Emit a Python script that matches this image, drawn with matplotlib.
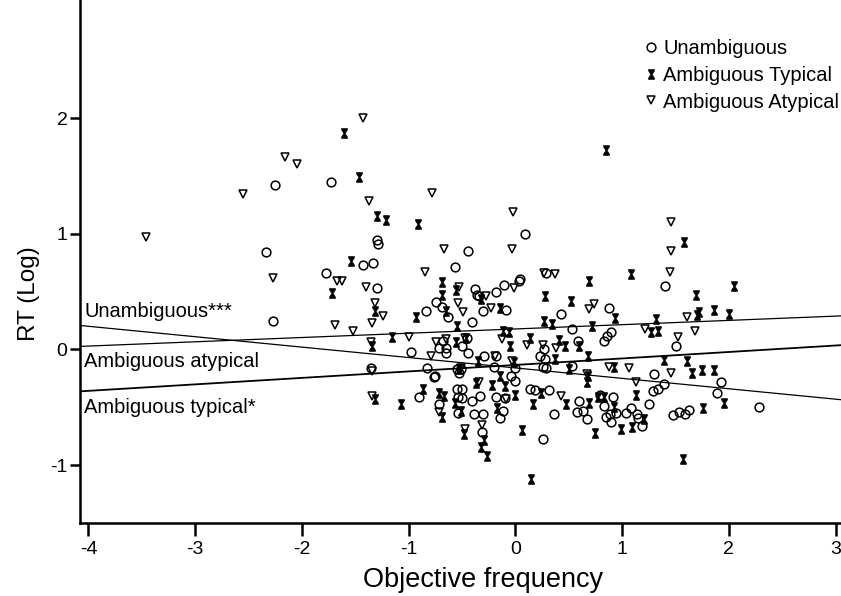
import numpy as np
import matplotlib
matplotlib.use('Agg')
import matplotlib.pyplot as plt
from matplotlib.path import Path

plt.rcParams['font.family'] = ['Liberation Sans', 'DejaVu Sans']
plt.rcParams['axes.unicode_minus'] = False

# Unambiguous words (open circles)
unamb_x = [-2.25, -1.73, -2.34, -2.27, -1.30, -1.29, -1.43, -1.33, -1.77, -1.30,
           -1.35, -0.44, -0.57, 0.09, -0.38, -0.36, -0.34, -0.11, 0.03, 0.04,
           -0.18, -0.74, -0.69, -0.84, -0.63, -0.30, -0.09, -0.41, -0.45, -0.68,
           -0.72, -0.65, -0.65, -0.50, -0.44, -0.98, -0.29, -0.18, -0.20, -0.83,
           -0.55, -0.53, -0.51, 0.00, -0.75, 0.29, 1.40, 0.43, 0.88, 0.53,
           0.59, 0.83, 0.86, 0.90, 1.50, 0.27, 0.23, 0.28, 0.26, 0.29,
           0.53, 1.30, -0.76, -0.90, -0.72, -0.55, -0.50, -0.54, -0.50, -0.41,
           -0.33, -0.54, -0.39, -0.30, -0.18, -0.10, -0.12, -0.14, -0.04, 0.00,
           0.14, 0.18, -0.31, 1.39, 1.34, 1.29, 1.25, 0.31, 0.60, 0.63,
           0.58, 0.67, 0.79, 0.91, 0.83, 0.85, 0.89, 0.94, 0.90, 1.04,
           1.08, 1.14, 1.15, 1.19, 0.36, 0.26, 1.48, 1.53, 1.59, 1.63,
           1.93, 1.89, 2.28]
unamb_y = [1.42, 1.45, 0.84, 0.25, 0.95, 0.91, 0.73, 0.75, 0.66, 0.53,
           -0.16, 0.85, 0.71, 1.00, 0.52, 0.47, 0.46, 0.56, 0.59, 0.61,
           0.50, 0.41, 0.37, 0.33, 0.28, 0.33, 0.34, 0.24, 0.10, 0.07,
           0.01, 0.01, -0.03, 0.03, -0.03, -0.02, -0.06, -0.06, -0.15, -0.16,
           -0.17, -0.20, -0.17, -0.16, -0.23, 0.66, 0.55, 0.31, 0.36, 0.18,
           0.07, 0.07, 0.12, 0.15, 0.03, 0.00, -0.06, -0.08, -0.15, -0.16,
           -0.14, -0.21, -0.24, -0.41, -0.47, -0.34, -0.34, -0.41, -0.42, -0.45,
           -0.40, -0.55, -0.56, -0.56, -0.41, -0.42, -0.53, -0.59, -0.23, -0.27,
           -0.34, -0.35, -0.71, -0.30, -0.34, -0.36, -0.47, -0.35, -0.45, -0.53,
           -0.54, -0.60, -0.39, -0.41, -0.49, -0.58, -0.56, -0.55, -0.63, -0.55,
           -0.51, -0.56, -0.59, -0.66, -0.56, -0.77, -0.57, -0.54, -0.56, -0.52,
           -0.28, -0.38, -0.50]

# Ambiguous words, typical meaning (filled hourglass)
typ_x = [-1.61, -1.47, -1.30, -1.21, -0.91, -1.54, -1.72, -0.69, -0.69, -0.56,
         -1.32, -1.34, -1.32, 0.85, -0.93, -0.65, -0.32, -0.14, -0.55, -1.16,
         -0.56, -0.06, -0.12, -0.05, -0.46, -0.35, -0.01, -0.53, 0.69, 1.08,
         1.69, 0.28, 0.52, 0.27, 0.34, 0.72, 0.93, 1.32, 1.27, 1.34,
         1.70, 0.14, 0.41, 0.46, 0.60, 0.37, 0.68, 1.39, 1.61, 1.65,
         0.50, 0.92, 0.68, 1.58, 2.05, 1.72, 1.86, 2.00, 1.75, 1.86,
         1.95, 1.76, 1.57, -0.87, -0.72, -0.67, -0.57, -0.69, -0.51, -0.37,
         -0.22, -0.14, -0.10, -0.17, 0.00, 0.16, -0.48, -0.29, -0.32, -0.27,
         0.06, 0.15, 0.67, 0.24, 0.47, 0.69, 0.77, 0.83, 0.92, 1.13,
         1.20, 0.75, 0.99, 1.09, -1.07]
typ_y = [1.87, 1.49, 1.15, 1.12, 1.08, 0.76, 0.49, 0.58, 0.47, 0.51,
         0.33, 0.03, -0.43, 1.72, 0.28, 0.33, 0.44, 0.36, 0.20, 0.11,
         0.06, 0.15, 0.16, 0.03, 0.10, -0.10, -0.11, -0.17, 0.59, 0.65,
         0.47, 0.46, 0.42, 0.25, 0.22, 0.20, 0.27, 0.26, 0.15, 0.16,
         0.30, 0.10, 0.08, 0.03, 0.03, -0.08, -0.06, -0.09, -0.10, -0.20,
         -0.17, -0.15, -0.23, 0.93, 0.55, 0.32, 0.34, 0.31, -0.18, -0.18,
         -0.46, -0.51, -0.95, -0.34, -0.38, -0.40, -0.46, -0.58, -0.53, -0.29,
         -0.31, -0.23, -0.32, -0.51, -0.39, -0.47, -0.73, -0.78, -0.84, -0.92,
         -0.70, -1.12, -0.28, -0.38, -0.47, -0.46, -0.41, -0.41, -0.50, -0.39,
         -0.60, -0.72, -0.69, -0.67, -0.47]

# Ambiguous words, atypical meaning (open down triangles)
atyp_x = [-3.46, -2.55, -2.16, -2.05, -1.43, -1.37, -0.78, -0.02, -0.03, -0.67,
          -0.85, -2.27, -1.67, -1.62, -1.40, -0.53, -0.28, -0.01, -1.69, -1.52,
          -1.32, -1.34, -1.35, -1.34, -1.34, -1.24, -0.54, -0.49, -0.23, -1.00,
          -0.79, -0.74, -0.65, -0.47, -0.13, 0.11, -0.19, -0.03, -0.51, 0.27,
          0.37, 1.45, 1.46, 1.46, 0.69, 0.74, 1.21, 1.61, 1.68, 1.52,
          0.26, 0.38, 0.88, 1.06, 1.46, 0.67, -0.72, -0.47, -0.31, -0.09,
          -0.34, 0.43, 1.13]
atyp_y = [0.97, 1.34, 1.66, 1.60, 2.00, 1.28, 1.35, 1.19, 0.87, 0.87,
          0.67, 0.62, 0.59, 0.59, 0.54, 0.54, 0.46, 0.53, 0.21, 0.16,
          0.40, 0.23, 0.06, -0.19, -0.40, 0.29, 0.40, 0.32, 0.36, 0.11,
          -0.06, 0.06, 0.09, 0.10, 0.09, 0.04, -0.06, -0.10, -0.16, 0.66,
          0.65, 0.67, 0.85, 1.10, 0.35, 0.39, 0.18, 0.28, 0.16, 0.11,
          0.04, 0.01, -0.15, -0.16, -0.20, -0.21, -0.54, -0.69, -0.65, -0.43,
          -0.28, -0.40, -0.28]

# fit lines (intercept, slope) and their labels
line_labels = ['Unambiguous***', 'Ambiguous atypical', 'Ambiguous typical*']
line_icpt = [-0.16, 0.177, -0.134]
line_slope = [-0.09, 0.037, 0.056]
line_lw = [0.9, 0.9, 1.3]
label_y = [0.33, -0.10, -0.50]

# hourglass marker
hg = Path([(-0.6, 1), (0.6, 1), (0.6, 0.75), (0.12, 0), (0.6, -0.75), (0.6, -1),
           (-0.6, -1), (-0.6, -0.75), (-0.12, 0), (-0.6, 0.75), (-0.6, 1)])

fig = plt.figure(figsize=(8.41, 5.96), dpi=100)
ax = fig.add_axes([0.095, 0.1225, 0.905, 0.8775])

ax.plot(unamb_x, unamb_y, 'o', ms=6.3, mfc='none', mec='black', mew=1.1, label='Unambiguous')
ax.plot(typ_x, typ_y, marker=hg, ls='none', ms=7, mfc='black', mec='black', mew=0.5,
        label='Ambiguous Typical')
ax.plot(atyp_x, atyp_y, 'v', ms=6.3, mfc='none', mec='black', mew=1.1, label='Ambiguous Atypical')

xs = np.array([-4.08, 3.05])
for b0, b1, lw in zip(line_icpt, line_slope, line_lw):
    ax.plot(xs, b0 + b1 * xs, color='black', lw=lw)
for lab, yy in zip(line_labels, label_y):
    ax.text(-4.04, yy, lab, fontsize=14.5, va='center', ha='left')

ax.set_xlim(-4.08, 3.05)
ax.set_ylim(-1.5, 3.02)
ax.set_xticks(range(-4, 4))
ax.set_yticks([-1, 0, 1, 2])
ax.spines['top'].set_visible(False)
ax.spines['right'].set_visible(False)
ax.spines['left'].set_linewidth(1.8)
ax.spines['bottom'].set_linewidth(1.8)
ax.tick_params(axis='x', length=9, width=1.8, labelsize=14, pad=4)
ax.tick_params(axis='y', length=7, width=1.8, labelsize=14, pad=2)
ax.set_xlabel('Objective frequency', fontsize=19.5)
ax.set_ylabel('RT (Log)', fontsize=17.5)
ax.xaxis.set_label_coords(0.53, -0.084)
ax.yaxis.set_label_coords(-0.053, 0.438)

ax.legend(loc='upper left', bbox_to_anchor=(0.74, 0.925), frameon=False, fontsize=14.5,
          handlelength=0.8, handletextpad=0.2, labelspacing=0.38, borderpad=0,
          borderaxespad=0)

fig.savefig('out.png', dpi=100)
